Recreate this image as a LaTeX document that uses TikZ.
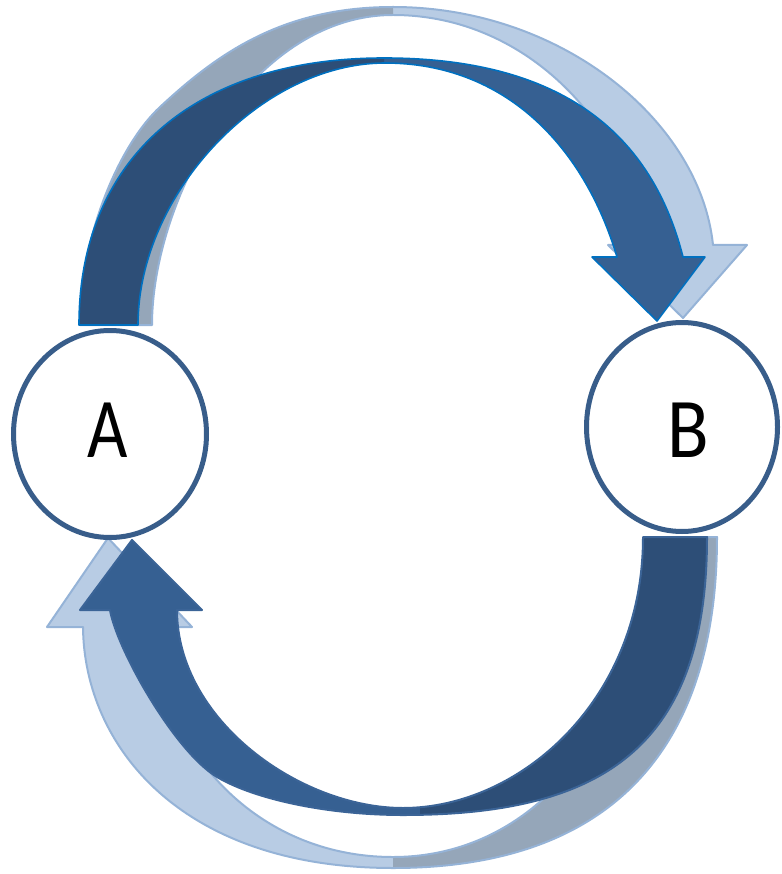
\documentclass[tikz,border=0pt]{standalone}
\usepackage{fontspec}
\setmainfont{Carlito}
\usetikzlibrary{shapes.geometric}
\definecolor{dkback}{HTML}{2D4E77}
\definecolor{dkfront}{HTML}{366092}
\definecolor{dkedge}{HTML}{0070C0}
\definecolor{dkedgeb}{HTML}{3B6497}
\definecolor{ltback}{HTML}{95A6B9}
\definecolor{ltfront}{HTML}{B8CCE4}
\definecolor{ltedge}{HTML}{95B3D7}
\definecolor{circ}{HTML}{385D8A}
\tikzset{
  TDpath/.style={insert path={(79,325) .. controls (79,159) and (194,58) .. (384,58) .. controls (554,58) and (650,127) .. (683,257) -- (705,257) -- (657,321) -- (592,257) -- (617,257) .. controls (584,146) and (505,63) .. (385,63) .. controls (261,63) and (138,194) .. (138,325) -- cycle}},
  TLpath/.style={insert path={(80,325) .. controls (80,235) and (120,144) .. (160,107) .. controls (218,53) and (283,7) .. (393,7) .. controls (560,7) and (700,120) .. (713,245) -- (747,245) -- (683,318) -- (608,245) -- (645,245) .. controls (630,130) and (530,15) .. (393,15) .. controls (250,15) and (152,200) .. (152,325) -- cycle}},
  BDpath/.style={insert path={(707,537) .. controls (707,745) and (605,815) .. (403,815) .. controls (330,815) and (256,800) .. (217,777) .. controls (175,752) and (117,650) .. (110,610) -- (80,610) -- (132,540) -- (202,610) -- (177,610) .. controls (177,720) and (300,808) .. (403,808) .. controls (520,808) and (643,700) .. (643,537) -- cycle}},
  BLpath/.style={insert path={(717,537) .. controls (717,760) and (600,868) .. (393,868) .. controls (180,868) and (84,745) .. (83,627) -- (47,627) -- (108,538) -- (192,627) -- (156,627) .. controls (156,740) and (250,857) .. (393,857) .. controls (540,857) and (645,720) .. (645,537) -- cycle}},
  ltline/.style={draw=ltedge, line width=2pt, line join=round},
  dkline/.style={draw=dkedge, line width=1.6pt, line join=round},
  dklineb/.style={draw=dkedgeb, line width=2pt, line join=round},
  bubble/.style={ellipse, draw=circ, line width=5pt, fill=white, inner sep=0pt},
  lab/.style={font=\fontsize{85}{85}\selectfont, text=black, inner sep=0pt}
}
\begin{document}
\begin{tikzpicture}[x=1pt,y=-1pt]
\useasboundingbox (0,0) rectangle (781,874);
% light (back) arrows
\fill[ltfront, TLpath];
\begin{scope}\clip (0,0) rectangle (393,340); \fill[ltback, TLpath]; \end{scope}
\path[ltline, TLpath];
\fill[ltfront, BLpath];
\begin{scope}\clip (393,530) rectangle (781,874); \fill[ltback, BLpath]; \end{scope}
\path[ltline, BLpath];
% dark (front) arrows
\fill[dkfront, TDpath];
\begin{scope}\clip (0,0) rectangle (384,340); \fill[dkback, TDpath]; \end{scope}
\path[dkline, TDpath];
\fill[dkfront, BDpath];
\begin{scope}\clip (420,530) rectangle (781,874); \fill[dkback, BDpath]; \end{scope}
\path[dklineb, BDpath];
% nodes
\node[bubble, minimum width=193pt, minimum height=207pt] (A) at (110,434) {};
\node[bubble, minimum width=191pt, minimum height=209pt] (B) at (682,427) {};
\node[lab] (la) at (108,430) {\scalebox{0.82}[1]{A}};
\node[lab] (lb) at (688,430) {\scalebox{0.9}[1]{B}};
\end{tikzpicture}
\end{document}
